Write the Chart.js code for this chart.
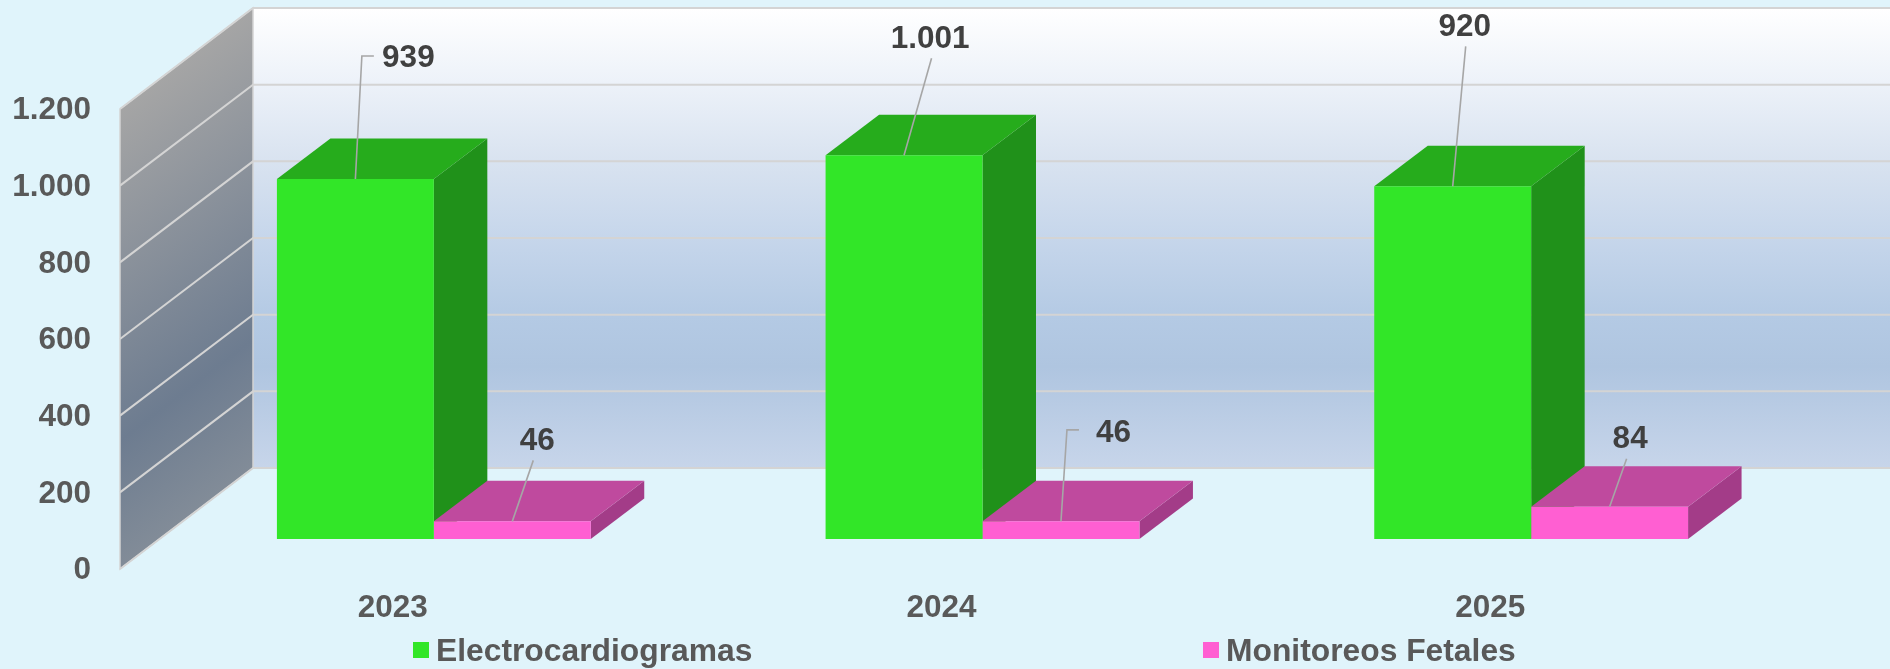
<!DOCTYPE html>
<html>
<head>
<meta charset="utf-8">
<title>Electrocardiogramas y Monitoreos Fetales</title>
<script src="https://cdn.jsdelivr.net/npm/chart.js@4"></script>
<style>
  html, body { margin: 0; padding: 0; background: #e0f4fb; }
  #wrap { position: relative; width: 1890px; height: 669px; overflow: hidden; }
  #legend span { position: absolute; white-space: nowrap; }
  .legend-box { width: 16px; height: 16px; top: 642px; }
  .legend-text { top: 632px; font: bold 31.8px/36px "Liberation Sans", Arial, sans-serif; color: #595959; }
</style>
</head>
<body>
<div id="wrap">
  <canvas id="chart" width="1890" height="669"></canvas>
  <div id="legend"></div>
</div>
<script>
const years = ['2023', '2024', '2025'];
const electro = [939, 1001, 920];
const fetales = [46, 46, 84];
const seriesNames = ['Electrocardiogramas', 'Monitoreos Fetales'];

// leader line points and text position, as offsets from the top middle of each bar
const electroLeaders = [
  { line: [[6.5, -123], [18.5, -123]], text: [53, -120.5] },
  { line: [[27.5, -97]], text: [26, -116] },
  { line: [[13, -140]], text: [12, -159.5] }
];
const fetalesLeaders = [
  { line: [[21, -61]], text: [25, -80] },
  { line: [[6, -91.5], [18, -91.5]], text: [52.5, -88] },
  { line: [[17, -48]], text: [20.5, -67] }
];

const faces = [
  { front: '#32e628', top: '#26ac1c', side: '#20911a' },
  { front: '#ff5fd2', top: '#bf4a9e', side: '#a33c88' }
];

// 3D look: axis plane, bar plane and back wall are the same scales shifted
const wall = { dx: 133, dy: 101 };
const barShift = { x: 39.5, y: 30 };
const barDepth = { x: 53.5, y: 40.5 };
const fontFamily = '"Liberation Sans", Arial, sans-serif';
const font = 'bold 31.5px ' + fontFamily;

const fmt = (v) => String(v).replace(/\B(?=(\d{3})+$)/g, '.');

function poly(ctx, pts, color) {
  ctx.beginPath();
  pts.forEach((p, i) => (i ? ctx.lineTo(p[0], p[1]) : ctx.moveTo(p[0], p[1])));
  ctx.closePath();
  ctx.fillStyle = color;
  ctx.fill();
}

const walls3d = {
  id: 'walls3d',
  beforeDatasetsDraw(chart) {
    const { ctx, chartArea: a, scales } = chart;
    const backLeft = a.left + wall.dx;
    const backRight = a.right + wall.dx;
    const backTop = a.top - wall.dy;
    const backBottom = a.bottom - wall.dy;
    ctx.save();

    const back = ctx.createLinearGradient(0, backTop, 0, backBottom);
    back.addColorStop(0, '#ffffff');
    back.addColorStop(0.16, '#edf2f9');
    back.addColorStop(0.33, '#d9e3f0');
    back.addColorStop(0.5, '#c6d6eb');
    back.addColorStop(0.67, '#b4cae4');
    back.addColorStop(0.78, '#afc5e0');
    back.addColorStop(1, '#c7d5ea');
    ctx.fillStyle = back;
    ctx.fillRect(backLeft, backTop, backRight - backLeft, backBottom - backTop);

    const side = ctx.createLinearGradient(backLeft, backTop, backLeft + 222, backTop + 292);
    side.addColorStop(0, '#a5a5a5');
    side.addColorStop(0.72, '#6d7c90');
    side.addColorStop(1, '#828c98');
    const sidePts = [[a.left, a.top], [backLeft, backTop], [backLeft, backBottom], [a.left, a.bottom]];
    poly(ctx, sidePts, side);
    ctx.strokeStyle = '#d4d4d4';
    ctx.lineWidth = 1.5;
    ctx.stroke();

    // gridlines run along the side wall and across the back wall
    ctx.lineWidth = 2;
    scales.y.ticks.forEach((t) => {
      const y = scales.y.getPixelForValue(t.value);
      ctx.beginPath();
      ctx.moveTo(a.left, y);
      ctx.lineTo(backLeft, y - wall.dy);
      ctx.lineTo(backRight, y - wall.dy);
      ctx.stroke();
    });
    ctx.restore();

    // side and top faces go under the front faces, series by series
    ctx.save();
    ctx.translate(barShift.x, -barShift.y);
    chart.data.datasets.forEach((ds, di) => {
      const c = faces[di];
      chart.getDatasetMeta(di).data.forEach((bar) => {
        const l = bar.x - bar.width / 2;
        const r = bar.x + bar.width / 2;
        const dx = barDepth.x;
        const dy = barDepth.y;
        poly(ctx, [[r, bar.y], [r + dx, bar.y - dy], [r + dx, bar.base - dy], [r, bar.base]], c.side);
        poly(ctx, [[l, bar.y], [l + dx, bar.y - dy], [r + dx, bar.y - dy], [r, bar.y]], c.top);
      });
    });
    // library draws the front faces in this shifted plane
  },
  afterDatasetsDraw(chart) {
    const { ctx } = chart;
    ctx.restore();
    ctx.save();
    ctx.font = font;
    ctx.textAlign = 'center';
    ctx.textBaseline = 'middle';
    ctx.translate(barShift.x, -barShift.y);
    [electroLeaders, fetalesLeaders].forEach((leaders, di) => {
      chart.getDatasetMeta(di).data.forEach((bar, i) => {
        const lead = leaders[i];
        ctx.beginPath();
        ctx.moveTo(bar.x, bar.y);
        lead.line.forEach((p) => ctx.lineTo(bar.x + p[0], bar.y + p[1]));
        ctx.strokeStyle = '#a6a6a6';
        ctx.lineWidth = 1.6;
        ctx.stroke();
        ctx.fillStyle = '#404040';
        ctx.fillText(fmt(chart.data.datasets[di].data[i]), bar.x + lead.text[0], bar.y + lead.text[1]);
      });
    });
    ctx.restore();
  }
};

new Chart(document.getElementById('chart'), {
  type: 'bar',
  data: {
    labels: years,
    datasets: [
      { label: seriesNames[0], data: electro, backgroundColor: faces[0].front },
      { label: seriesNames[1], data: fetales, backgroundColor: faces[1].front }
    ]
  },
  options: {
    responsive: false,
    animation: false,
    layout: { padding: { top: 109, right: 124, left: 0, bottom: 0 } },
    datasets: { bar: { categoryPercentage: 0.572, barPercentage: 1, clip: false } },
    plugins: { legend: { display: false }, tooltip: { enabled: false } },
    scales: {
      x: {
        grid: { display: false, drawTicks: false },
        border: { display: false },
        afterFit: (scale) => { scale.height = 100; },
        ticks: { color: '#595959', font: { family: fontFamily, size: 31.5, weight: 'bold' }, padding: 20, labelOffset: -1.5 }
      },
      y: {
        min: 0,
        max: 1200,
        grid: { display: false, drawTicks: false },
        border: { display: false },
        afterFit: (scale) => { scale.width = 120; },
        ticks: {
          stepSize: 200,
          color: '#595959',
          font: { family: fontFamily, size: 31.5, weight: 'bold' },
          padding: 29,
          labelOffset: 1.5,
          callback: (v) => fmt(v)
        }
      }
    }
  },
  plugins: [walls3d]
});

// html legend, the two entries sit far apart in the original
const legendX = [{ box: 413, text: 436 }, { box: 1203, text: 1226 }];
document.getElementById('legend').innerHTML = seriesNames.map((name, i) => `
  <span class="legend-box" style="left:${legendX[i].box}px; background:${faces[i].front};"></span>
  <span class="legend-text" style="left:${legendX[i].text}px;">${name}</span>
`).join('');
</script>
</body>
</html>
